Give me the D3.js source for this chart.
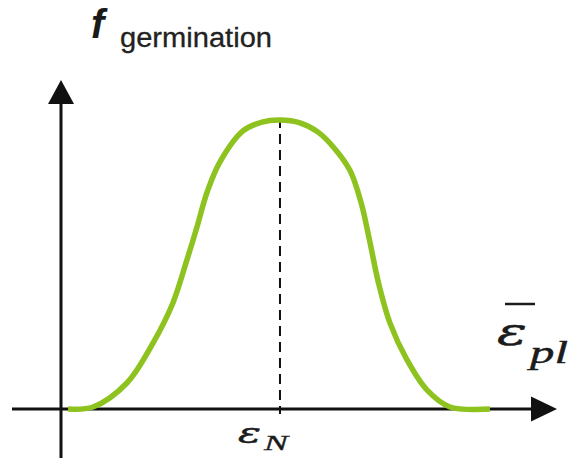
<!DOCTYPE html>
<html>
<head>
<meta charset="utf-8">
<script src="https://cdn.jsdelivr.net/npm/d3@7"></script>
<style>
  html, body { margin: 0; padding: 0; background: #ffffff; }
  svg { display: block; }
</style>
</head>
<body>
<svg id="chart" width="575" height="464"></svg>
<script>
// Equivalent plastic strain, in units of the nucleation strain epsilon_N
const strain = [0.032, 0.146, 0.301, 0.420, 0.511, 0.575, 0.621, 0.667, 0.726, 0.831, 0.918, 1.000,
                1.091, 1.174, 1.251, 1.320, 1.370, 1.410, 1.450, 1.502, 1.580, 1.671, 1.776, 1.959];
// Normalised germination frequency
const germination = [0.000, 0.007, 0.090, 0.228, 0.367, 0.516, 0.630, 0.750, 0.855, 0.962, 0.993, 1.000,
                     0.990, 0.958, 0.900, 0.825, 0.715, 0.580, 0.436, 0.298, 0.170, 0.066, 0.007, 0.000];
const peakStrain = 1.0;          // epsilon_N
const yLabel = ["f", "germination"];
const xLabel = ["ε", "pl"];
const peakLabel = ["ε", "N"];

const svg = d3.select("#chart");

const x = d3.scaleLinear().domain([0, 2.265]).range([61, 557]);
const y = d3.scaleLinear().domain([0, 1]).range([409, 120]);

const axisColor = "#111111";
const curveColor = "#8dc21f";
const textColor = "#1c1c1c";

// axes: plain lines with solid arrowheads
const x0 = x(0), y0 = y(0);
const xTip = x.range()[1], yTip = 80;

svg.append("line")
  .attr("x1", 12).attr("x2", xTip - 22)
  .attr("y1", y0).attr("y2", y0)
  .attr("stroke", axisColor).attr("stroke-width", 3);
svg.append("line")
  .attr("x1", x0).attr("x2", x0)
  .attr("y1", 458).attr("y2", yTip + 20)
  .attr("stroke", axisColor).attr("stroke-width", 3);

svg.append("path")
  .attr("d", `M${xTip},${y0} L${xTip - 26},${y0 - 12.5} L${xTip - 26},${y0 + 12.5} Z`)
  .attr("fill", axisColor);
svg.append("path")
  .attr("d", `M${x0},${yTip} L${x0 - 13},${yTip + 24} L${x0 + 13},${yTip + 24} Z`)
  .attr("fill", axisColor);

// dashed marker at the peak strain
svg.append("line")
  .attr("x1", x(peakStrain)).attr("x2", x(peakStrain))
  .attr("y1", y(1) - 2).attr("y2", y0 + 5)
  .attr("stroke", axisColor).attr("stroke-width", 2)
  .attr("stroke-dasharray", "10,6");

// germination curve
const pts = strain.map((s, i) => [s, germination[i]]);
svg.append("path")
  .datum(pts)
  .attr("d", d3.line().x(d => x(d[0])).y(d => y(d[1])).curve(d3.curveCatmullRom.alpha(0.5)))
  .attr("fill", "none")
  .attr("stroke", curveColor)
  .attr("stroke-width", 5.5)
  .attr("stroke-linecap", "butt");

// y-axis title
svg.append("text")
  .attr("x", 91).attr("y", 38)
  .attr("font-family", "Liberation Sans, Arial, sans-serif")
  .attr("font-weight", "bold").attr("font-style", "italic")
  .attr("font-size", 40).attr("fill", "#1a1a1a")
  .text(yLabel[0]);
svg.append("text")
  .attr("x", 120).attr("y", 47)
  .attr("font-family", "Liberation Sans, Arial, sans-serif")
  .attr("font-size", 27).attr("fill", "#222222")
  .attr("stroke", "#222222").attr("stroke-width", 0.3)
  .attr("textLength", 152).attr("lengthAdjust", "spacingAndGlyphs")
  .text(yLabel[1]);

// x-axis title: epsilon with overbar, subscript pl
svg.append("text")
  .attr("x", 497).attr("y", 345)
  .attr("font-family", "DejaVu Serif, serif")
  .attr("font-style", "italic")
  .attr("font-size", 40).attr("fill", textColor)
  .attr("stroke", textColor).attr("stroke-width", 0.5)
  .attr("textLength", 30).attr("lengthAdjust", "spacingAndGlyphs")
  .text(xLabel[0]);
svg.append("line")
  .attr("x1", 505).attr("x2", 535)
  .attr("y1", 304).attr("y2", 304)
  .attr("stroke", textColor).attr("stroke-width", 2.5);
svg.append("text")
  .attr("x", 530).attr("y", 363)
  .attr("font-family", "Liberation Serif, serif")
  .attr("font-style", "italic")
  .attr("font-size", 31).attr("fill", textColor)
  .attr("stroke", textColor).attr("stroke-width", 0.4)
  .attr("textLength", 38).attr("lengthAdjust", "spacingAndGlyphs")
  .text(xLabel[1]);

// label under the peak
svg.append("text")
  .attr("x", x(peakStrain) - 42).attr("y", 443)
  .attr("font-family", "DejaVu Serif, serif")
  .attr("font-style", "italic")
  .attr("font-size", 27).attr("fill", textColor)
  .attr("stroke", textColor).attr("stroke-width", 0.5)
  .attr("textLength", 23).attr("lengthAdjust", "spacingAndGlyphs")
  .text(peakLabel[0]);
svg.append("text")
  .attr("x", x(peakStrain) - 16).attr("y", 450)
  .attr("font-family", "Liberation Serif, serif")
  .attr("font-style", "italic")
  .attr("font-size", 20).attr("fill", textColor)
  .attr("stroke", textColor).attr("stroke-width", 0.3)
  .attr("textLength", 24).attr("lengthAdjust", "spacingAndGlyphs")
  .text(peakLabel[1]);
</script>
</body>
</html>
